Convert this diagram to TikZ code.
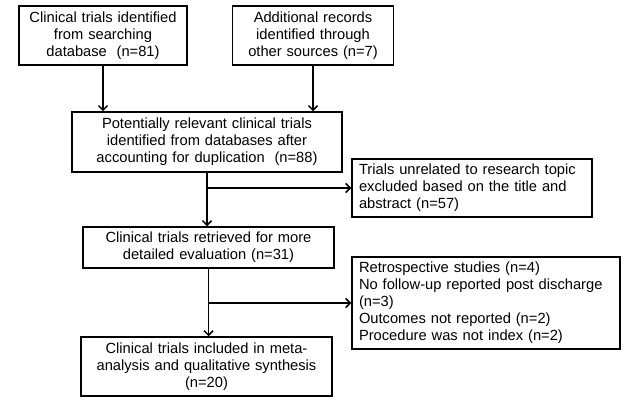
\documentclass[tikz,border=0pt]{standalone}
\usepackage{fontspec}
\setmainfont{Liberation Sans}
\usetikzlibrary{arrows.meta}
\tikzset{box/.style={draw, line width=1.5pt, inner xsep=6pt, inner ysep=0pt, align=center, font=\fontsize{14.7}{17}\selectfont},
  leftbox/.style={box, align=left, inner xsep=7pt},
  arr/.style={line width=1.5pt, -{Straight Barb[length=4.5pt,width=9pt]}}}

\begin{document}
\begin{tikzpicture}[x=1pt,y=-1pt]
\useasboundingbox (0,0) rectangle (624,403);
\node[box, text width=156pt, minimum height=59pt] (src) at (103,35.5) {Clinical trials identified\\from searching\\database~ (n=81)};
\node[box, text width=149pt, minimum height=59pt] (oth) at (313,35.5) {Additional records\\identified through\\other sources (n=7)};
\node[box, text width=258pt, minimum height=60pt] (rel) at (207,142) {Potentially relevant clinical trials\\identified from databases after\\accounting for duplication~ (n=88)};
\node[leftbox, text width=226pt, minimum height=58pt] (unr) at (472,188) {Trials unrelated to research topic\\excluded based on the title and\\abstract (n=57)};
\node[box, text width=239pt, minimum height=41pt] (ret) at (208.5,247.5) {Clinical trials retrieved for more\\detailed evaluation (n=31)};
\node[leftbox, text width=254pt, minimum height=92pt] (exc) at (486,303) {Retrospective studies (n=4)\\No follow-up reported post discharge\\(n=3)\\Outcomes not reported (n=2)\\Procedure was not index (n=2)};
\node[box, text width=239pt, minimum height=59pt] (inc) at (206.5,366.5) {Clinical trials included in meta-\\analysis and qualitative synthesis\\(n=20)};
% arrows
\draw[arr] (src.south) -- (src.south |- rel.north);
\draw[arr] (oth.south) -- (oth.south |- rel.north);
\draw[arr] (rel.south) -- (rel.south |- ret.north);
\draw[arr] (rel.south |- unr.west) -- (unr.west);
\draw[arr] (ret.south) -- (ret.south |- inc.north);
\draw[arr] (ret.south |- exc.west) -- (exc.west);
\end{tikzpicture}
\end{document}
